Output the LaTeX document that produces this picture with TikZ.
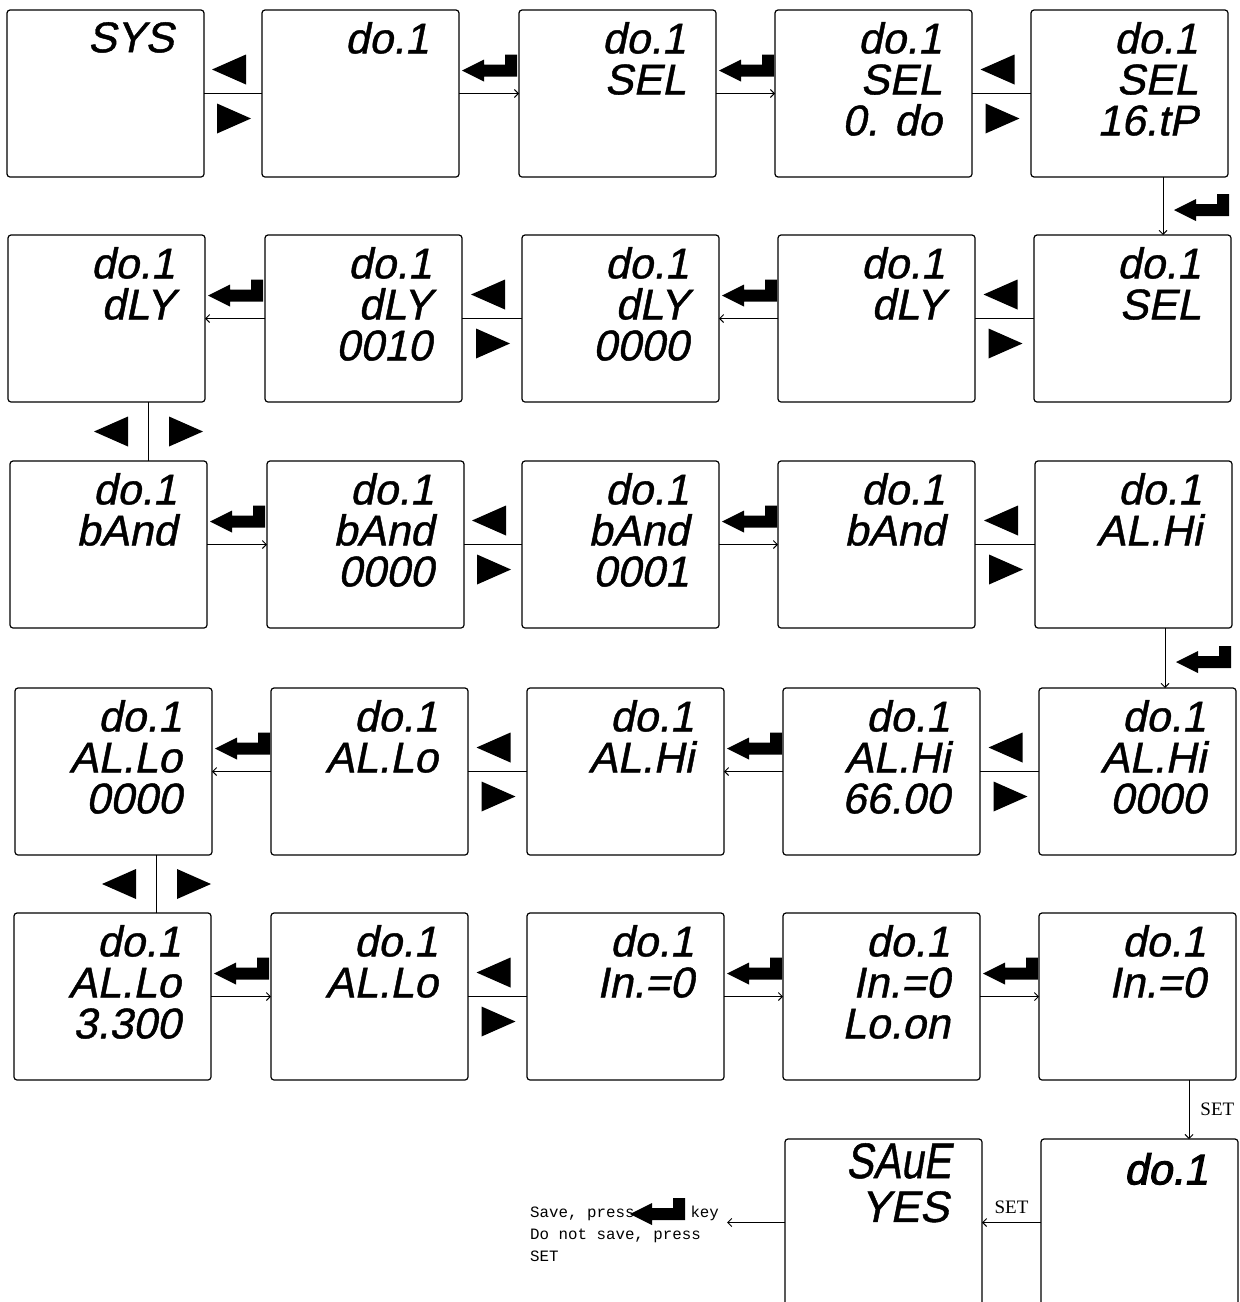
\documentclass[tikz,border=0pt]{standalone}
\usepackage{fontspec}
\usepackage{graphicx}
\usetikzlibrary{arrows.meta,calc}
\newfontfamily\lcdfont[FakeSlant=0.2,FakeBold=1]{Liberation Sans}
\newfontfamily\lcdbold[FakeSlant=0.2,FakeBold=2.5]{Liberation Sans}
\newfontfamily\notefont{Liberation Mono}
\newfontfamily\setfont{Liberation Serif}

\tikzset{
  lcdframe/.style={draw, line width=1.2pt, rounded corners=3pt, minimum width=197pt,
    minimum height=167pt, anchor=north west, inner sep=0pt, outer sep=0pt},
  lcdtext/.style={anchor=north east, align=right, inner sep=0pt,
    font=\lcdfont\fontsize{43pt}{41pt}\selectfont},
  conn/.style={line width=0.9pt},
  arr/.style={conn, -{Straight Barb[length=4pt,width=8pt]}},
  setlbl/.style={inner sep=0pt, font=\setfont\fontsize{19pt}{21pt}\selectfont},
  leftkey/.pic={\fill (-17,0) -- (17,-15) -- (17,15) -- cycle;},
  rightkey/.pic={\fill (17,0) -- (-17,-15) -- (-17,15) -- cycle;},
  enterkey/.pic={\fill (0,0) -- (22,-11) -- (22,-6) -- (43,-6) -- (43,-16) -- (55,-16)
     -- (55,6) -- (22,6) -- (22,11) -- cycle;},
}

\newcommand\lcd[4]{%
  \node[lcdframe] (#1) at (#2,#3) {};
  \node[lcdtext] (#1t) at (#2+167,#3+12) {#4};
}
\newcommand\lrpair[2]{%
  \draw[conn] (#1.east) -- (#2.west);
  \coordinate (m) at ($(#1.east)!0.5!(#2.west)$);
  \pic at ($(m)+(-4,-24)$) {leftkey};
  \pic at ($(m)+(1,25)$) {rightkey};
}
\newcommand\enterR[2]{%
  \draw[arr] (#1.east) -- (#2.west);
  \pic at ($(#1.east)+(3,-23)$) {enterkey};
}
\newcommand\enterL[2]{%
  \draw[arr] (#2.west) -- (#1.east);
  \pic at ($(#1.east)+(3,-23)$) {enterkey};
}
\newcommand\udpair[3]{%
  \coordinate (t) at ([xshift=#3]#1.south west);
  \coordinate (u) at (t |- #2.north);
  \draw[conn] (t) -- (u);
  \coordinate (m) at ($(t)!0.5!(u)$);
  \pic at ($(m)+(-37,0)$) {leftkey};
  \pic at ($(m)+(38,0)$) {rightkey};
}
\newcommand\downenter[3]{%
  \coordinate (t) at ([xshift=#3]#1.south west);
  \coordinate (u) at (t |- #2.north);
  \draw[arr] (t) -- (u);
  \pic at ($(t)!0.5!(u)+(11,4)$) {enterkey};
}

\begin{document}
\begin{tikzpicture}[x=1pt,y=-1pt]
\useasboundingbox (0,0) rectangle (1240,1302);

% row 1
\lcd{B11}{7}{10}{SYS}
\lcd{B12}{262}{10}{do.1}
\lcd{B13}{519}{10}{do.1\\SEL}
\lcd{B14}{775}{10}{do.1\\SEL\\0. do}
\lcd{B15}{1031}{10}{do.1\\SEL\\16.tP}
% row 2
\lcd{B21}{8}{235}{do.1\\dLY}
\lcd{B22}{265}{235}{do.1\\dLY\\0010}
\lcd{B23}{522}{235}{do.1\\dLY\\0000}
\lcd{B24}{778}{235}{do.1\\dLY}
\lcd{B25}{1034}{235}{do.1\\SEL}
% row 3
\lcd{B31}{10}{461}{do.1\\bAnd}
\lcd{B32}{267}{461}{do.1\\bAnd\\0000}
\lcd{B33}{522}{461}{do.1\\bAnd\\0001}
\lcd{B34}{778}{461}{do.1\\bAnd}
\lcd{B35}{1035}{461}{do.1\\AL.Hi}
% row 4
\lcd{B41}{15}{688}{do.1\\AL.Lo\\0000}
\lcd{B42}{271}{688}{do.1\\AL.Lo}
\lcd{B43}{527}{688}{do.1\\AL.Hi}
\lcd{B44}{783}{688}{do.1\\AL.Hi\\66.00}
\lcd{B45}{1039}{688}{do.1\\AL.Hi\\0000}
% row 5
\lcd{B51}{14}{913}{do.1\\AL.Lo\\3.300}
\lcd{B52}{271}{913}{do.1\\AL.Lo}
\lcd{B53}{527}{913}{do.1\\In.=0}
\lcd{B54}{783}{913}{do.1\\In.=0\\Lo.on}
\lcd{B55}{1039}{913}{do.1\\In.=0}
% row 6
\node[lcdframe] (B64) at (785,1139) {};
\node[anchor=north east, inner sep=0pt, font=\lcdfont\fontsize{50pt}{52pt}\selectfont]
  (B64a) at (951,1143) {\scalebox{0.82}[1]{SAuE}};
\node[anchor=north east, inner sep=0pt, font=\lcdfont\fontsize{44pt}{46pt}\selectfont]
  (B64b) at (949,1191) {YES};
\node[lcdframe] (B65) at (1041,1139) {};
\node[anchor=north east, inner sep=0pt, font=\lcdbold\fontsize{43pt}{45pt}\selectfont]
  (B65t) at (1208,1153) {do.1};

% connectors row 1
\lrpair{B11}{B12}
\enterR{B12}{B13}
\enterR{B13}{B14}
\lrpair{B14}{B15}
\downenter{B15}{B25}{132pt}
% row 2
\lrpair{B24}{B25}
\enterL{B23}{B24}
\lrpair{B22}{B23}
\enterL{B21}{B22}
\udpair{B21}{B31}{140pt}
% row 3
\enterR{B31}{B32}
\lrpair{B32}{B33}
\enterR{B33}{B34}
\lrpair{B34}{B35}
\downenter{B35}{B45}{130pt}
% row 4
\lrpair{B44}{B45}
\enterL{B43}{B44}
\lrpair{B42}{B43}
\enterL{B41}{B42}
\udpair{B41}{B51}{141pt}
% row 5
\enterR{B51}{B52}
\lrpair{B52}{B53}
\enterR{B53}{B54}
\enterR{B54}{B55}
\coordinate (s1) at ([xshift=150pt]B55.south west);
\coordinate (s2) at (s1 |- B65.north);
\draw[arr] (s1) -- node[setlbl, anchor=west, xshift=11pt] (set1) {SET} (s2);
% row 6
\draw[arr] (B65.west) -- node[setlbl, anchor=south, yshift=8pt] (set2) {SET} (B64.east);

\node[anchor=north west, align=left, inner sep=0pt,
  font=\notefont\fontsize{15.8pt}{22pt}\selectfont] (note) at (530,1206)
  {Save, press\hspace*{56pt}key\\Do not save, press\\SET};
\pic at (630,1214) {enterkey};
\coordinate (nt) at ([xshift=8pt]note.east);
\draw[arr] (B64.west) -- (B64.west -| nt);
\end{tikzpicture}
\end{document}
